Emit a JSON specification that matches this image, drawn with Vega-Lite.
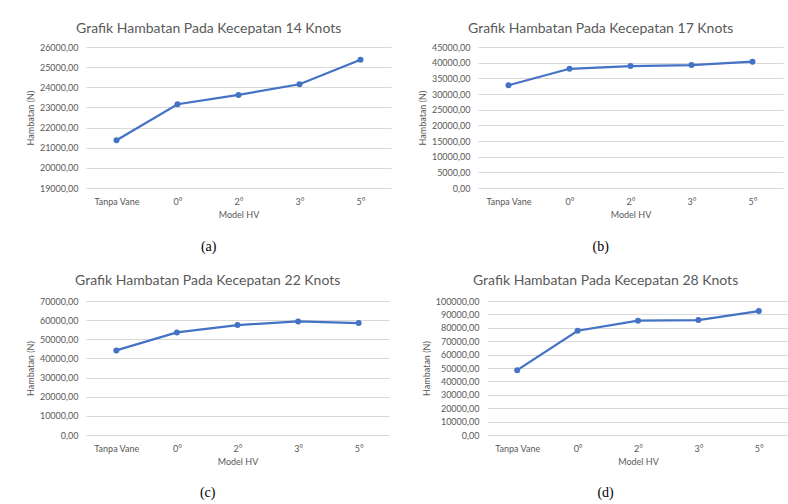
{
  "$schema": "https://vega.github.io/schema/vega-lite/v6.json",
  "background": "white",
  "padding": {"left": 26, "top": 22, "right": 3, "bottom": 5},
  "datasets": {
    "hv": [
      {"speed": 14, "model": "Tanpa Vane", "hambatan": 21370},
      {"speed": 14, "model": "0°", "hambatan": 23160},
      {"speed": 14, "model": "2°", "hambatan": 23620},
      {"speed": 14, "model": "3°", "hambatan": 24150},
      {"speed": 14, "model": "5°", "hambatan": 25370},
      {"speed": 17, "model": "Tanpa Vane", "hambatan": 32800},
      {"speed": 17, "model": "0°", "hambatan": 38050},
      {"speed": 17, "model": "2°", "hambatan": 38900},
      {"speed": 17, "model": "3°", "hambatan": 39250},
      {"speed": 17, "model": "5°", "hambatan": 40300},
      {"speed": 22, "model": "Tanpa Vane", "hambatan": 44200},
      {"speed": 22, "model": "0°", "hambatan": 53600},
      {"speed": 22, "model": "2°", "hambatan": 57450},
      {"speed": 22, "model": "3°", "hambatan": 59350},
      {"speed": 22, "model": "5°", "hambatan": 58500},
      {"speed": 28, "model": "Tanpa Vane", "hambatan": 48400},
      {"speed": 28, "model": "0°", "hambatan": 77800},
      {"speed": 28, "model": "2°", "hambatan": 85300},
      {"speed": 28, "model": "3°", "hambatan": 85800},
      {"speed": 28, "model": "5°", "hambatan": 92500}
    ]
  },
  "config": {
    "font": "Lato",
    "view": {"stroke": null},
    "title": {"font": "Lato", "fontSize": 14, "fontWeight": "normal", "color": "#595959", "frame": "bounds", "anchor": "middle", "offset": 7},
    "axis": {"labelFont": "Lato", "labelFontSize": 9, "labelColor": "#595959", "titleFont": "Lato", "titleFontSize": 9, "titleFontWeight": "normal", "titleColor": "#595959", "ticks": false, "domain": false, "gridColor": "#d9d9d9", "gridWidth": 1}
  },
  "vconcat": [
    {
      "spacing": 27,
      "hconcat": [
        {
          "title": {"text": "(a)", "orient": "bottom", "font": "Liberation Serif", "fontSize": 14, "color": "#000000", "offset": 21, "frame": "bounds", "anchor": "middle"},
          "vconcat": [
            {
              "title": "Grafik Hambatan Pada Kecepatan 14 Knots",
              "width": 305, "height": 141,
              "data": {"name": "hv"},
              "transform": [{"filter": "datum.speed == 14"}],
              "encoding": {
                "x": {"field": "model", "type": "ordinal", "sort": ["Tanpa Vane", "0°", "2°", "3°", "5°"], "scale": {"padding": 0.5}, "axis": {"title": "Model HV", "labelAngle": 0, "grid": false, "labelPadding": 9, "titlePadding": 4}},
                "y": {"field": "hambatan", "type": "quantitative", "scale": {"domain": [19000, 26000], "nice": false, "zero": false}, "axis": {"title": "Hambatan (N)", "values": [19000, 20000, 21000, 22000, 23000, 24000, 25000, 26000], "labelExpr": "replace(format(datum.value, '.2f'), '.', ',')", "labelPadding": 8, "titlePadding": 4}}
              },
              "layer": [
                {"mark": {"type": "line", "color": "#4472C4", "strokeWidth": 2.25}},
                {"mark": {"type": "point", "filled": true, "color": "#4472C4", "size": 36, "opacity": 1}}
              ]
            }
          ]
        },
        {
          "title": {"text": "(b)", "orient": "bottom", "font": "Liberation Serif", "fontSize": 14, "color": "#000000", "offset": 21, "frame": "bounds", "anchor": "middle"},
          "vconcat": [
            {
              "title": "Grafik Hambatan Pada Kecepatan 17 Knots",
              "width": 305, "height": 141,
              "data": {"name": "hv"},
              "transform": [{"filter": "datum.speed == 17"}],
              "encoding": {
                "x": {"field": "model", "type": "ordinal", "sort": ["Tanpa Vane", "0°", "2°", "3°", "5°"], "scale": {"padding": 0.5}, "axis": {"title": "Model HV", "labelAngle": 0, "grid": false, "labelPadding": 9, "titlePadding": 4}},
                "y": {"field": "hambatan", "type": "quantitative", "scale": {"domain": [0, 45000], "nice": false}, "axis": {"title": "Hambatan (N)", "values": [0, 5000, 10000, 15000, 20000, 25000, 30000, 35000, 40000, 45000], "labelExpr": "replace(format(datum.value, '.2f'), '.', ',')", "labelPadding": 8, "titlePadding": 4}}
              },
              "layer": [
                {"mark": {"type": "line", "color": "#4472C4", "strokeWidth": 2.25}},
                {"mark": {"type": "point", "filled": true, "color": "#4472C4", "size": 36, "opacity": 1}}
              ]
            }
          ]
        }
      ]
    },
    {
      "spacing": 33,
      "hconcat": [
        {
          "title": {"text": "(c)", "orient": "bottom", "font": "Liberation Serif", "fontSize": 14, "color": "#000000", "offset": 20, "frame": "bounds", "anchor": "middle"},
          "vconcat": [
            {
              "title": {"text": "Grafik Hambatan Pada Kecepatan 22 Knots", "offset": 9},
              "width": 303, "height": 134,
              "data": {"name": "hv"},
              "transform": [{"filter": "datum.speed == 22"}],
              "encoding": {
                "x": {"field": "model", "type": "ordinal", "sort": ["Tanpa Vane", "0°", "2°", "3°", "5°"], "scale": {"padding": 0.5}, "axis": {"title": "Model HV", "labelAngle": 0, "grid": false, "labelPadding": 9, "titlePadding": 4}},
                "y": {"field": "hambatan", "type": "quantitative", "scale": {"domain": [0, 70000], "nice": false}, "axis": {"title": "Hambatan (N)", "values": [0, 10000, 20000, 30000, 40000, 50000, 60000, 70000], "labelExpr": "replace(format(datum.value, '.2f'), '.', ',')", "labelPadding": 8, "titlePadding": 4}}
              },
              "layer": [
                {"mark": {"type": "line", "color": "#4472C4", "strokeWidth": 2.25}},
                {"mark": {"type": "point", "filled": true, "color": "#4472C4", "size": 36, "opacity": 1}}
              ]
            }
          ]
        },
        {
          "title": {"text": "(d)", "orient": "bottom", "font": "Liberation Serif", "fontSize": 14, "color": "#000000", "offset": 20, "frame": "bounds", "anchor": "middle"},
          "vconcat": [
            {
              "title": {"text": "Grafik Hambatan Pada Kecepatan 28 Knots", "offset": 9},
              "width": 302, "height": 134,
              "data": {"name": "hv"},
              "transform": [{"filter": "datum.speed == 28"}],
              "encoding": {
                "x": {"field": "model", "type": "ordinal", "sort": ["Tanpa Vane", "0°", "2°", "3°", "5°"], "scale": {"padding": 0.5}, "axis": {"title": "Model HV", "labelAngle": 0, "grid": false, "labelPadding": 9, "titlePadding": 4}},
                "y": {"field": "hambatan", "type": "quantitative", "scale": {"domain": [0, 100000], "nice": false}, "axis": {"title": "Hambatan (N)", "values": [0, 10000, 20000, 30000, 40000, 50000, 60000, 70000, 80000, 90000, 100000], "labelExpr": "replace(format(datum.value, '.2f'), '.', ',')", "labelPadding": 8, "titlePadding": 4}}
              },
              "layer": [
                {"mark": {"type": "line", "color": "#4472C4", "strokeWidth": 2.25}},
                {"mark": {"type": "point", "filled": true, "color": "#4472C4", "size": 36, "opacity": 1}}
              ]
            }
          ]
        }
      ]
    }
  ]
}
